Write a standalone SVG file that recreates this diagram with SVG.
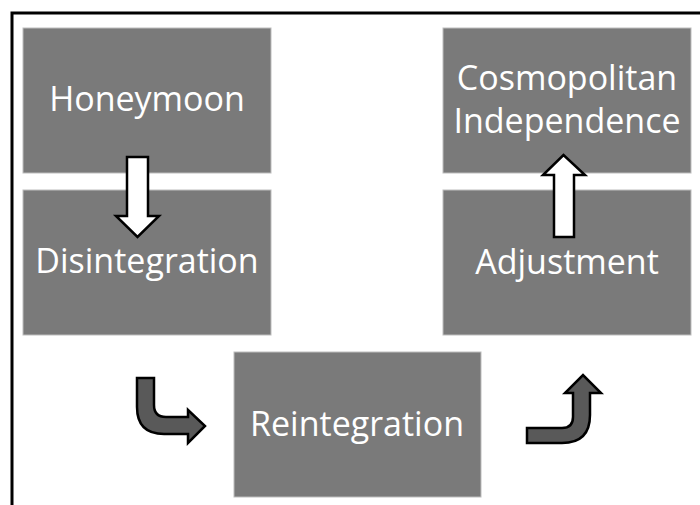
<svg xmlns="http://www.w3.org/2000/svg" width="700" height="505" viewBox="0 0 700 505">
<style>
.box{fill:#7a7a7a;stroke:#bdbdbd;stroke-width:1}
.lbl{fill:#ffffff;font-family:"Open Sans","Noto Sans",sans-serif;font-size:34px;text-anchor:middle}
.wa{fill:#ffffff;stroke:#000;stroke-width:2.5;stroke-linejoin:miter}
.da{fill:#595959;stroke:#000;stroke-width:2.5;stroke-linejoin:miter}
</style>
<rect x="0" y="0" width="700" height="505" fill="#fff"/>
<rect x="12" y="13" width="720" height="520" fill="none" stroke="#000" stroke-width="3"/>
<g id="honeymoon"><rect class="box" x="23" y="28" width="248" height="145"/><text class="lbl" x="147" y="111">Honeymoon</text></g>
<g id="disintegration"><rect class="box" x="23" y="190" width="248" height="145"/><text class="lbl" x="147" y="273">Disintegration</text></g>
<g id="cosmopolitan"><rect class="box" x="443" y="28" width="248" height="145"/><text class="lbl" x="567" y="90">Cosmopolitan</text><text class="lbl" x="567" y="133">Independence</text></g>
<g id="adjustment"><rect class="box" x="443" y="190" width="248" height="145"/><text class="lbl" x="567" y="274">Adjustment</text></g>
<g id="reintegration"><rect class="box" x="234" y="352" width="247" height="145"/><text class="lbl" x="357" y="436">Reintegration</text></g>
<g id="connectors">
<path class="wa" d="M127,157 H148 V216 H159 L137.5,237 L116,216 H127 Z"/>
<path class="wa" d="M554,237 V175 H543 L563.5,155 L585,175 H574 V237 Z"/>
<path class="da" d="M137,378 H154 V405 Q154,417 166,417 H188 V410 L205,426 L188,443 V434 H164 Q137,434 137,407 Z"/>
<path class="da" d="M527,428 H562 Q573,428 573,417 V393 H565 L583,375 L601,393 H590 V415 Q590,443 562,443 H527 Z"/>
</g>
</svg>
